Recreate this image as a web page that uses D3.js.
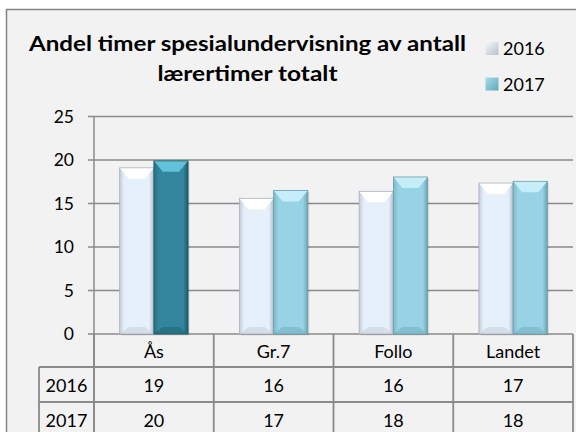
<!DOCTYPE html>
<html><head><meta charset="utf-8">
<script src="https://cdn.jsdelivr.net/npm/d3@7"></script>
<style>html,body{margin:0;padding:0;background:#fff;}svg{display:block;}</style>
</head><body>
<svg id="c" width="576" height="432"></svg>
<script>
const categories = ["Ås", "Gr.7", "Follo", "Landet"];
const seriesNames = ["2016", "2017"];
const values2016 = [19.1, 15.6, 16.4, 17.35];
const values2017 = [19.9, 16.5, 18.05, 17.55];
const table2016 = ["19", "16", "16", "17"];
const table2017 = ["20", "17", "18", "18"];
const yTicks = [0, 5, 10, 15, 20, 25];
const titleLines = ["Andel timer spesialundervisning av antall", "lærertimer totalt"];

const svg = d3.select("#c");
const FONT = "Lato, 'Noto Sans', sans-serif";
const GRID = "#8a8a8a";

// chart frame
svg.append("rect").attr("x", 6.5).attr("y", 9.5).attr("width", 600).attr("height", 460)
  .attr("fill", "#f2f2f2").attr("stroke", "#858585").attr("stroke-width", 1.5);

const x = d3.scaleBand().domain(categories).range([94, 573]).paddingInner(0).paddingOuter(0);
const y = d3.scaleLinear().domain([0, 25]).range([334, 116.5]);
const bw = x.bandwidth() / 3.5;
const x1 = d3.scaleBand().domain(seriesNames).range([x.bandwidth() / 2 - bw, x.bandwidth() / 2 + bw]);

// gridlines + ticks
const g = svg.append("g");
g.selectAll("line.grid").data(yTicks).join("line")
  .attr("x1", 88).attr("x2", 573)
  .attr("y1", d => y(d)).attr("y2", d => y(d))
  .attr("stroke", GRID).attr("stroke-width", 1.3);
g.selectAll("text.tick").data(yTicks).join("text")
  .attr("x", 74).attr("y", d => y(d)).attr("dy", "0.35em")
  .attr("text-anchor", "end").attr("font-family", FONT).attr("font-size", 17.5).attr("fill", "#000")
  .text(d => d);

// y axis line (continues into table)
svg.append("line").attr("x1", 94).attr("x2", 94).attr("y1", y(25)).attr("y2", 440)
  .attr("stroke", GRID).attr("stroke-width", 1.5);

// gradients
const defs = svg.append("defs");
function mkGrad(id, base, left, right) {
  const lg = defs.append("linearGradient").attr("id", id).attr("x1", 0).attr("x2", 1).attr("y1", 0).attr("y2", 0);
  lg.append("stop").attr("offset", "0%").attr("stop-color", left);
  lg.append("stop").attr("offset", "14%").attr("stop-color", base);
  lg.append("stop").attr("offset", "86%").attr("stop-color", base);
  lg.append("stop").attr("offset", "100%").attr("stop-color", right);
}
const styles = {
  light: {base: "#e6f0fb", left: "#c5ccd8", right: "#b4bcc8", top: "#ffffff", bottom: "#cdd4de", stroke: "#a9b1bd"},
  cyan: {base: "#97d3e4", left: "#7fb8c8", right: "#6aa3b3", top: "#c6eef8", bottom: "#7cb6c6", stroke: "#6a9fae"},
  dark: {base: "#31869d", left: "#28707f", right: "#1e5766", top: "#62c0d8", bottom: "#256a7b", stroke: "#1f5c6b"}
};
Object.entries(styles).forEach(([k, s]) => mkGrad("g_" + k, s.base, s.left, s.right));

function drawBar(parent, bx, by, w, h, st) {
  const s = styles[st];
  const gg = parent.append("g");
  gg.append("rect").attr("x", bx + 1.5).attr("y", by + 1.5).attr("width", w).attr("height", h)
    .attr("fill", "rgba(0,0,0,0.10)");
  gg.append("rect").attr("x", bx).attr("y", by).attr("width", w).attr("height", h)
    .attr("fill", `url(#g_${st})`);
  const d = Math.min(11, h / 2), e = 9;
  gg.append("polygon").attr("points", [[bx, by], [bx + w, by], [bx + w - e, by + d], [bx + e, by + d]].join(" "))
    .attr("fill", s.top);
  gg.append("polygon").attr("points", [[bx, by + h], [bx + w, by + h], [bx + w - e, by + h - 7], [bx + e, by + h - 7]].join(" "))
    .attr("fill", s.bottom).attr("opacity", 0.7);
  gg.append("rect").attr("x", bx).attr("y", by).attr("width", w).attr("height", h)
    .attr("fill", "none").attr("stroke", s.stroke).attr("stroke-width", 0.8);
}

const bars = svg.append("g");
categories.forEach((c, i) => {
  const v16 = values2016[i], v17 = values2017[i];
  drawBar(bars, x(c) + x1("2016"), y(v16), x1.bandwidth(), y(0) - y(v16), "light");
  drawBar(bars, x(c) + x1("2017"), y(v17), x1.bandwidth(), y(0) - y(v17), i === 0 ? "dark" : "cyan");
});

// data table
const rowTops = [334, 367, 402, 437];
const t = svg.append("g");
t.selectAll("line.h").data([367, 402]).join("line")
  .attr("x1", 39).attr("x2", 573).attr("y1", d => d).attr("y2", d => d)
  .attr("stroke", GRID).attr("stroke-width", 1.8);
t.selectAll("line.v").data(categories.slice(1).map(c => x(c)).concat([573])).join("line")
  .attr("x1", d => d).attr("x2", d => d).attr("y1", 334).attr("y2", 440)
  .attr("stroke", GRID).attr("stroke-width", 1.8);
t.append("line").attr("x1", 39).attr("x2", 39).attr("y1", 367).attr("y2", 440)
  .attr("stroke", GRID).attr("stroke-width", 1.8);
svg.append("line").attr("x1", 94).attr("x2", 94).attr("y1", 334).attr("y2", 440)
  .attr("stroke", GRID).attr("stroke-width", 1.8);

const tf = (sel) => sel.attr("font-family", FONT).attr("font-size", 18).attr("fill", "#000")
  .attr("text-anchor", "middle").attr("dy", "0.36em");
t.selectAll("text.cat").data(categories).join("text")
  .attr("x", d => x(d) + x.bandwidth() / 2).attr("y", (rowTops[0] + rowTops[1]) / 2 + 1).call(tf).text(d => d);
t.selectAll("text.r16").data(table2016).join("text")
  .attr("x", (d, i) => x(categories[i]) + x.bandwidth() / 2).attr("y", (rowTops[1] + rowTops[2]) / 2 + 1).call(tf).text(d => d);
t.selectAll("text.r17").data(table2017).join("text")
  .attr("x", (d, i) => x(categories[i]) + x.bandwidth() / 2).attr("y", (rowTops[2] + rowTops[3]) / 2 + 1).call(tf).text(d => d);
t.selectAll("text.rl").data(seriesNames).join("text")
  .attr("x", 66.5).attr("y", (d, i) => (rowTops[i + 1] + rowTops[i + 2]) / 2 + 1).call(tf).text(d => d);

// title
const titleW = [437, 180];
svg.selectAll("text.title").data(titleLines).join("text")
  .attr("x", 247.5).attr("y", (d, i) => 50.5 + i * 30)
  .attr("text-anchor", "middle").attr("font-family", FONT).attr("font-weight", "bold")
  .attr("font-size", 21.5).attr("fill", "#000")
  .attr("textLength", (d, i) => titleW[i]).attr("lengthAdjust", "spacingAndGlyphs")
  .text(d => d);

// legend
const lg1 = defs.append("linearGradient").attr("id", "lg16").attr("x1", 0).attr("x2", 1).attr("y1", 0).attr("y2", 1);
lg1.append("stop").attr("offset", "0%").attr("stop-color", "#f4f7fb");
lg1.append("stop").attr("offset", "100%").attr("stop-color", "#b9c1cc");
const lg2 = defs.append("linearGradient").attr("id", "lg17").attr("x1", 0).attr("x2", 1).attr("y1", 0).attr("y2", 1);
lg2.append("stop").attr("offset", "0%").attr("stop-color", "#a8dcea");
lg2.append("stop").attr("offset", "100%").attr("stop-color", "#5fa8bc");
const legY = [42, 77.5];
const leg = svg.append("g");
seriesNames.forEach((s, i) => {
  leg.append("rect").attr("x", 485.5).attr("y", legY[i]).attr("width", 13).attr("height", 13)
    .attr("fill", i === 0 ? "url(#lg16)" : "url(#lg17)");
  leg.append("text").attr("x", 503).attr("y", legY[i] + 13)
    .attr("font-family", FONT).attr("font-size", 18).attr("fill", "#000").text(s);
});
</script>
</body></html>
